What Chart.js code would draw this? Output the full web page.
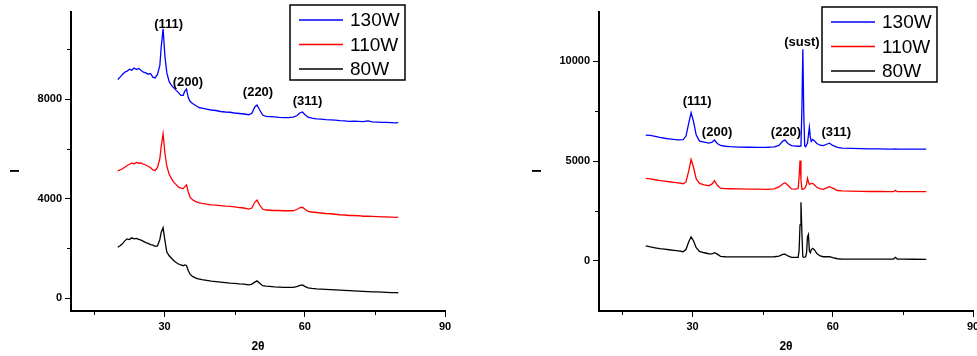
<!DOCTYPE html>
<html>
<head>
<meta charset="utf-8">
<script src="https://cdn.jsdelivr.net/npm/chart.js@4.4.0/dist/chart.umd.min.js"></script>
<style>
  html, body { margin: 0; padding: 0; background: #fff; overflow: hidden; }
  #wrap { position: relative; width: 977px; height: 356px; overflow: hidden; }
  canvas { position: absolute; top: 0; }
  #leftChart { left: 0; }
  #rightChart { left: 490px; }
</style>
</head>
<body>
<div id="wrap">
  <canvas id="leftChart" width="490" height="356"></canvas>
  <canvas id="rightChart" width="500" height="356"></canvas>
</div>
<script>
// --- datos panel izquierdo (2θ compartido) ---
const leftAngles = [
  20, 20.5, 21, 21.5, 22, 22.5, 23, 23.5, 24, 24.5,
  25, 25.5, 26, 26.5, 27, 27.5, 28, 28.5, 29, 29.3,
  29.7, 30.1, 30.5, 31, 31.5, 32, 32.5, 33, 33.5, 34,
  34.3, 34.7, 35.1, 35.5, 36, 36.5, 37, 37.5, 38, 39,
  40, 41, 42, 43, 44, 45, 46, 47, 48, 48.7,
  49.3, 49.8, 50.3, 51, 51.7, 52.5, 53.5, 54.5, 55.5, 56.5,
  57.5, 58.3, 59, 59.5, 60, 60.7, 61.5, 62.5, 63.5, 64.5,
  65.5, 66.5, 67.5, 68.5, 69.5, 70.5, 71.5, 72.5, 73.5, 74.5,
  75.5, 76.5, 77.5, 78.5, 79.5, 80
];
const left130W = [
  8790, 8880, 8990, 9080, 9120, 9200, 9160, 9250, 9190, 9230,
  9150, 9080, 9050, 9000, 9030, 8880, 8850, 8990, 9350, 10100,
  10820, 9700, 9050, 8700, 8550, 8450, 8350, 8260, 8150, 8150,
  8300, 8400, 8050, 7900, 7820, 7760, 7700, 7650, 7640, 7600,
  7560, 7540, 7500, 7480, 7470, 7440, 7420, 7400, 7370, 7430,
  7680, 7760, 7580, 7360, 7300, 7290, 7280, 7260, 7250, 7250,
  7270, 7330, 7450, 7480, 7380, 7270, 7230, 7200, 7190, 7170,
  7160, 7150, 7130, 7120, 7100, 7110, 7100, 7090, 7120, 7080,
  7070, 7060, 7060, 7050, 7040, 7050
];
const left110W = [
  5110, 5150, 5200, 5260, 5330, 5380, 5420, 5400, 5450, 5420,
  5430, 5380, 5350, 5300, 5250, 5150, 5130, 5250, 5600, 6100,
  6600, 5800, 5300, 4980, 4800, 4650, 4560, 4460, 4420, 4400,
  4470, 4550, 4250, 4050, 3950, 3900, 3860, 3830, 3810, 3780,
  3750, 3740, 3720, 3700, 3690, 3670, 3640, 3620, 3580, 3620,
  3850, 3940, 3760, 3580, 3540, 3530, 3520, 3520, 3510, 3510,
  3510, 3560, 3640, 3650, 3580, 3480, 3460, 3440, 3420, 3400,
  3390, 3370, 3350, 3340, 3320, 3320, 3310, 3290, 3290, 3280,
  3270, 3260, 3260, 3250, 3240, 3250
];
const left80W = [
  2040, 2100, 2180, 2300, 2380, 2350, 2420, 2380, 2400, 2360,
  2330, 2280, 2230, 2200, 2150, 2130, 2080, 2100, 2350, 2650,
  2830, 2300, 1850, 1700, 1600, 1500, 1430, 1370, 1330, 1300,
  1330, 1310, 1100, 950, 870, 820, 780, 760, 740, 710,
  680, 660, 640, 620, 600, 590, 570, 560, 530, 560,
  640, 690, 610, 500, 480, 470, 450, 440, 430, 430,
  430, 460, 510, 530, 470, 410, 390, 370, 360, 350,
  340, 330, 320, 310, 300, 290, 280, 270, 260, 250,
  250, 240, 230, 220, 215, 213
];

// --- datos panel derecho ---
const rightAngles = [
  20, 21, 22, 23, 24, 25, 26, 27, 28, 28.6,
  29.2, 29.7, 30.2, 30.8, 31.5, 32.5, 33.5, 34.2, 34.7, 35.3,
  36, 37, 38, 40, 42, 44, 46, 47.5, 48.5, 49.3,
  49.8, 50.4, 51.2, 52, 52.6, 52.8, 53.0, 53.2, 53.4, 53.6,
  53.8, 54.0, 54.2, 54.4, 54.6, 54.8, 55.0, 55.2, 55.4, 55.7,
  56.1, 56.6, 57.3, 58, 58.7, 59.3, 60, 61, 62, 64,
  66, 68, 70, 72, 73, 73.4, 73.8, 75, 77.5, 80
];
const right130W = [
  6300, 6280, 6230, 6180, 6140, 6110, 6080, 6060, 6070, 6250,
  6900, 7420, 7000, 6300, 6000, 5950, 5900, 5940, 6050, 5880,
  5780, 5740, 5720, 5700, 5690, 5680, 5690, 5710, 5780, 6000,
  6050, 5880, 5770, 5750, 5740, 5740, 5750, 5780, 7600, 10600,
  7400, 5760, 5720, 5800, 5900, 6300, 6690, 6200, 5980, 6080,
  6000, 5880, 5790, 5770, 5840, 5890, 5780, 5680, 5650, 5630,
  5620, 5610, 5610, 5600, 5600, 5610, 5600, 5600, 5600, 5600
];
const right110W = [
  4130, 4100, 4060, 4020, 3990, 3960, 3930, 3900, 3860, 3950,
  4500, 5080, 4700, 4100, 3880, 3800, 3760, 3850, 4010, 3780,
  3640, 3620, 3610, 3600, 3590, 3590, 3580, 3600, 3700, 3850,
  3910, 3780, 3600, 3590, 3620, 4200, 5020, 4100, 3580, 3590,
  3600, 3630, 3700, 3850, 4130, 3950, 3830, 3860, 3870, 3880,
  3800, 3680, 3600, 3580, 3650, 3710, 3640, 3520, 3500, 3490,
  3480, 3470, 3470, 3460, 3460, 3530, 3460, 3460, 3460, 3460
];
const right80W = [
  740, 690, 650, 610, 580, 550, 520, 490, 450, 560,
  950, 1200, 1000, 650, 470, 400, 350, 340, 400, 330,
  220, 200, 195, 190, 190, 190, 195, 200, 230, 320,
  330, 240, 170, 165, 170, 500, 1800, 2930, 1400, 200,
  170, 180, 200, 400, 1200, 1320, 500, 400, 550, 620,
  540, 360, 240, 200, 200, 200, 150, 100, 85, 85,
  84, 84, 84, 84, 84, 170, 84, 80, 75, 67
];

// series / ticks / etiquetas
const seriesNames = ["130W", "110W", "80W"];
const seriesColors = ["#0000ff", "#ff0000", "#000000"];
const xMajorTicks = [30, 60, 90];
const xMinorTicks = [15, 45, 75];
const leftYMajor = [0, 4000, 8000];
const leftYMinor = [2000, 6000, 10000];
const rightYMajor = [0, 5000, 10000];
const rightYMinor = [2500, 7500];

const leftPeaks = [
  { label: "(111)", x: 30.9, y: 11015 },
  { label: "(200)", x: 35.0, y: 8655 },
  { label: "(220)", x: 50.0, y: 8281 },
  { label: "(311)", x: 60.6, y: 7891 }
];
const rightPeaks = [
  { label: "(111)", x: 31.0, y: 8009 },
  { label: "(200)", x: 35.25, y: 6454 },
  { label: "(220)", x: 50.0, y: 6454 },
  { label: "(sust)", x: 53.4, y: 10933 },
  { label: "(311)", x: 60.75, y: 6454 }
];

const FONT = '"Liberation Sans", Arial, Helvetica, sans-serif';

// minor ticks, etiquetas de picos, leyenda con marco y titulo Y
const extras = {
  id: "extras",
  afterDraw(chart, args, opts) {
    const ctx = chart.ctx;
    const xs = chart.scales.x, ys = chart.scales.y;
    const area = chart.chartArea;
    ctx.save();
    ctx.strokeStyle = "#000";
    ctx.lineWidth = 1;
    ctx.beginPath();
    opts.minorX.forEach(v => {
      const px = Math.round(xs.getPixelForValue(v)) + 0.5;
      ctx.moveTo(px, area.bottom);
      ctx.lineTo(px, area.bottom + 4);
    });
    opts.minorY.forEach(v => {
      const py = Math.round(ys.getPixelForValue(v)) + 0.5;
      ctx.moveTo(area.left - 4, py);
      ctx.lineTo(area.left, py);
    });
    ctx.stroke();

    // etiquetas (hkl)
    ctx.fillStyle = "#000";
    ctx.font = "bold 13px " + FONT;
    ctx.textAlign = "center";
    ctx.textBaseline = "middle";
    opts.peaks.forEach(p => {
      ctx.fillText(p.label, xs.getPixelForValue(p.x), ys.getPixelForValue(p.y));
    });

    // titulo eje Y ("I" girada)
    ctx.save();
    ctx.translate(opts.yTitle.x, opts.yTitle.y);
    ctx.rotate(-Math.PI / 2);
    ctx.font = "bold 13px " + FONT;
    ctx.fillText("I", 0, 0);
    ctx.restore();

    // leyenda
    const bx = area.right + opts.legend.dx, by = opts.legend.y;
    ctx.fillStyle = "#fff";
    ctx.fillRect(bx, by, 115, 75);
    ctx.lineWidth = 1.5;
    ctx.strokeStyle = "#000";
    ctx.strokeRect(bx, by, 115, 75);
    ctx.font = "19px " + FONT;
    ctx.textAlign = "left";
    seriesNames.forEach((name, i) => {
      const ry = by + 15 + i * 24.5;
      ctx.strokeStyle = seriesColors[i];
      ctx.lineWidth = 1.3;
      ctx.beginPath();
      ctx.moveTo(bx + 9, ry);
      ctx.lineTo(bx + 53, ry);
      ctx.stroke();
      ctx.fillStyle = "#000";
      ctx.fillText(name, bx + 60, ry + 1);
    });
    ctx.restore();
  }
};

function makeChart(canvasId, angles, seriesList, cfg) {
  const datasets = seriesList.map((vals, i) => ({
    label: seriesNames[i],
    data: angles.map((a, k) => ({ x: a, y: vals[k] })),
    borderColor: seriesColors[i],
    borderWidth: 1.3,
    pointRadius: 0,
    tension: 0,
    fill: false
  }));

  return new Chart(document.getElementById(canvasId), {
    type: "line",
    data: { datasets },
    plugins: [extras],
    options: {
      responsive: false,
      animation: false,
      devicePixelRatio: 1,
      layout: { padding: { top: 12, right: cfg.padRight, bottom: 0, left: 0 } },
      plugins: {
        legend: { display: false },
        tooltip: { enabled: false },
        extras: {
          minorX: xMinorTicks,
          minorY: cfg.yMinor,
          peaks: cfg.peaks,
          legend: cfg.legend,
          yTitle: cfg.yTitle
        }
      },
      scales: {
        x: {
          type: "linear",
          min: 10,
          max: 90,
          afterBuildTicks: s => { s.ticks = xMajorTicks.map(v => ({ value: v })); },
          afterFit: s => { s.height = 45; s.paddingLeft = 0; s.paddingRight = 0; },
          border: { color: "#000", width: 2 },
          grid: { drawOnChartArea: false, tickLength: 6, tickColor: "#000", tickWidth: 1 },
          ticks: { color: "#000", padding: 3, maxRotation: 0, callback: v => String(v), font: { family: FONT, size: 11, weight: "bold" } },
          title: { display: true, text: "2θ", color: "#000", padding: { top: 0, bottom: 2 }, font: { family: FONT, size: 12, weight: "bold" } }
        },
        y: {
          type: "linear",
          min: cfg.yMin,
          max: cfg.yMax,
          afterBuildTicks: s => { s.ticks = cfg.yMajor.map(v => ({ value: v })); },
          afterFit: s => { s.width = cfg.yWidth; s.paddingTop = 0; s.paddingBottom = 0; },
          border: { color: "#000", width: 2 },
          grid: { drawOnChartArea: false, tickLength: 6, tickColor: "#000", tickWidth: 1 },
          ticks: { color: "#000", padding: 3, callback: v => String(v), font: { family: FONT, size: 11, weight: "bold" } }
        }
      }
    }
  });
}

makeChart("leftChart", leftAngles, [left130W, left110W, left80W], {
  padRight: 45, yWidth: 71, yMin: -520, yMax: 11500,
  yMajor: leftYMajor, yMinor: leftYMinor, peaks: leftPeaks,
  legend: { dx: -155, y: 5 }, yTitle: { x: 15, y: 171 }
});

makeChart("rightChart", rightAngles, [right130W, right110W, right80W], {
  padRight: 17, yWidth: 109, yMin: -2520, yMax: 12470,
  yMajor: rightYMajor, yMinor: rightYMinor, peaks: rightPeaks,
  legend: { dx: -151, y: 7 }, yTitle: { x: 47, y: 171 }
});
</script>
</body>
</html>
